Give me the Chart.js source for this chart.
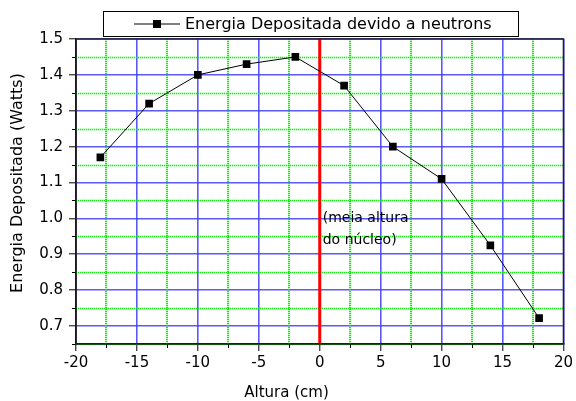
<!DOCTYPE html>
<html>
<head>
<meta charset="utf-8">
<script src="https://cdn.jsdelivr.net/npm/chart.js@4.4.0/dist/chart.umd.min.js"></script>
<style>
    html, body { margin: 0; padding: 0; background: #fff; }
    #wrap { width: 576px; height: 401px; }
</style>
</head>
<body>
<div id="wrap"><canvas id="chart" width="576" height="401"></canvas></div>
<script>
// ========== DATA ==========
const alturas = [-18, -14, -10, -6, -2, 2, 6, 10, 14, 18];
const energias = [1.17, 1.32, 1.40, 1.43, 1.45, 1.37, 1.20, 1.11, 0.925, 0.722];
const xMinor = [-17.5, -12.5, -7.5, -2.5, 2.5, 7.5, 12.5, 17.5];
const yMinor = [0.65, 0.75, 0.85, 0.95, 1.05, 1.15, 1.25, 1.35, 1.45];
const xRange = [-20, 20];
const yRange = [0.65, 1.5];
const nucleoX = 0;
const serieLabel = 'Energia Depositada devido a neutrons';
const xTitulo = 'Altura (cm)';
const yTitulo = 'Energia Depositada (Watts)';
const notaLinhas = ['(meia altura', 'do núcleo)'];
const notaY = 1.0;

const FONT = '"DejaVu Sans", Verdana, sans-serif';

// ========== EXTRA DRAWING (minor grid, frame, legend, titles, note) ==========
function minorLine(ctx, x0, y0, x1, y1, w) {
    // pale solid base + bright dots, like the original dotted grid
    ctx.lineWidth = w;
    ctx.setLineDash([]);
    ctx.strokeStyle = 'rgba(0, 255, 0, 0.3)';
    ctx.beginPath(); ctx.moveTo(x0, y0); ctx.lineTo(x1, y1); ctx.stroke();
    ctx.setLineDash([1, 1]);
    ctx.strokeStyle = 'rgba(0, 230, 0, 0.9)';
    ctx.beginPath(); ctx.moveTo(x0, y0); ctx.lineTo(x1, y1); ctx.stroke();
}

const extras = {
    id: 'extras',
    beforeDatasetsDraw(chart) {
        const { ctx, chartArea: a, scales: { x, y } } = chart;
        ctx.save();
        // minor grid, green dotted
        xMinor.forEach(v => {
            const px = Math.round(x.getPixelForValue(v));
            minorLine(ctx, px, a.top, px, a.bottom, 2);
        });
        yMinor.forEach(v => {
            const py = Math.round(y.getPixelForValue(v)) + 0.5;
            minorLine(ctx, a.left, py, a.right, py, 1.4);
        });
        // minor tick marks
        ctx.setLineDash([]);
        ctx.lineWidth = 1;
        ctx.strokeStyle = '#000';
        xMinor.forEach(v => {
            const px = Math.round(x.getPixelForValue(v)) + 0.5;
            ctx.beginPath(); ctx.moveTo(px, a.bottom); ctx.lineTo(px, a.bottom + 4); ctx.stroke();
        });
        yMinor.forEach(v => {
            const py = Math.round(y.getPixelForValue(v)) + 0.5;
            ctx.beginPath(); ctx.moveTo(a.left, py); ctx.lineTo(a.left - 4, py); ctx.stroke();
        });
        ctx.restore();
    },
    afterDraw(chart) {
        const { ctx, chartArea: a, scales: { x, y } } = chart;
        ctx.save();
        // frame
        ctx.strokeStyle = '#222';
        ctx.lineWidth = 1.5;
        ctx.strokeRect(a.left, a.top, a.right - a.left, a.bottom - a.top);

        // legend box
        ctx.font = '16px ' + FONT;
        const textX = 185;
        const tw = ctx.measureText(serieLabel).width;
        const boxL = 103.5, boxT = 11.5, boxH = 25;
        const boxR = Math.round(textX + tw + 26) + 0.5;
        ctx.fillStyle = '#fff';
        ctx.fillRect(boxL, boxT, boxR - boxL, boxH);
        ctx.strokeStyle = '#000';
        ctx.lineWidth = 1;
        ctx.strokeRect(boxL, boxT, boxR - boxL, boxH);
        const cy = boxT + boxH / 2;
        ctx.beginPath(); ctx.moveTo(134, cy); ctx.lineTo(180, cy); ctx.stroke();
        ctx.fillStyle = '#000';
        ctx.fillRect(157 - 4, cy - 4, 8, 8);
        ctx.textBaseline = 'middle';
        ctx.textAlign = 'left';
        ctx.fillText(serieLabel, textX, cy + 1);

        // note next to the core line
        ctx.font = '14px ' + FONT;
        const nx = x.getPixelForValue(nucleoX) + 3;
        const ny = y.getPixelForValue(notaY);
        notaLinhas.forEach((t, i) => ctx.fillText(t, nx, ny + i * 22));

        // axis titles
        ctx.font = '15px ' + FONT;
        ctx.textAlign = 'center';
        ctx.fillText(xTitulo, 286.5, 393);
        ctx.translate(18, 183);
        ctx.rotate(-Math.PI / 2);
        ctx.font = '16px ' + FONT;
        ctx.fillText(yTitulo, 0, 0);
        ctx.restore();
    }
};

// ========== CHART ==========
new Chart(document.getElementById('chart'), {
    type: 'scatter',
    data: {
        datasets: [{
            label: serieLabel,
            data: alturas.map((h, i) => ({ x: h, y: energias[i] })),
            showLine: true,
            borderColor: '#000',
            borderWidth: 1,
            pointStyle: 'rect',
            pointRadius: 5.4,
            pointBackgroundColor: '#000',
            pointBorderColor: '#000',
            pointBorderWidth: 0
        }, {
            label: 'nucleo',
            data: [{ x: nucleoX, y: yRange[0] }, { x: nucleoX, y: yRange[1] }],
            showLine: true,
            borderColor: '#ff0000',
            borderWidth: 3,
            pointRadius: 0
        }]
    },
    options: {
        responsive: false,
        animation: false,
        layout: { padding: { left: 0, right: 11, top: 39, bottom: 0 } },
        plugins: {
            legend: { display: false },
            tooltip: { enabled: false }
        },
        scales: {
            x: {
                type: 'linear',
                min: xRange[0],
                max: xRange[1],
                afterFit: s => { s.height = 57; },
                ticks: {
                    stepSize: 5,
                    maxRotation: 0,
                    color: '#000',
                    padding: 3,
                    font: { family: FONT, size: 15 }
                },
                grid: {
                    color: 'rgba(60, 60, 255, 0.85)',
                    lineWidth: 1.6,
                    tickColor: '#000',
                    tickWidth: 1,
                    tickLength: 7
                },
                border: { color: '#000', width: 1.5 }
            },
            y: {
                min: yRange[0],
                max: yRange[1],
                afterFit: s => { s.width = 76; },
                ticks: {
                    stepSize: 0.1,
                    includeBounds: false,
                    color: '#000',
                    padding: 6,
                    font: { family: FONT, size: 15 },
                    callback: v => v.toFixed(1)
                },
                grid: {
                    color: 'rgba(60, 60, 255, 0.85)',
                    lineWidth: 1.6,
                    tickColor: '#000',
                    tickWidth: 1,
                    tickLength: 7
                },
                border: { color: '#000', width: 1.5 }
            }
        }
    },
    plugins: [extras]
});
</script>
</body>
</html>
